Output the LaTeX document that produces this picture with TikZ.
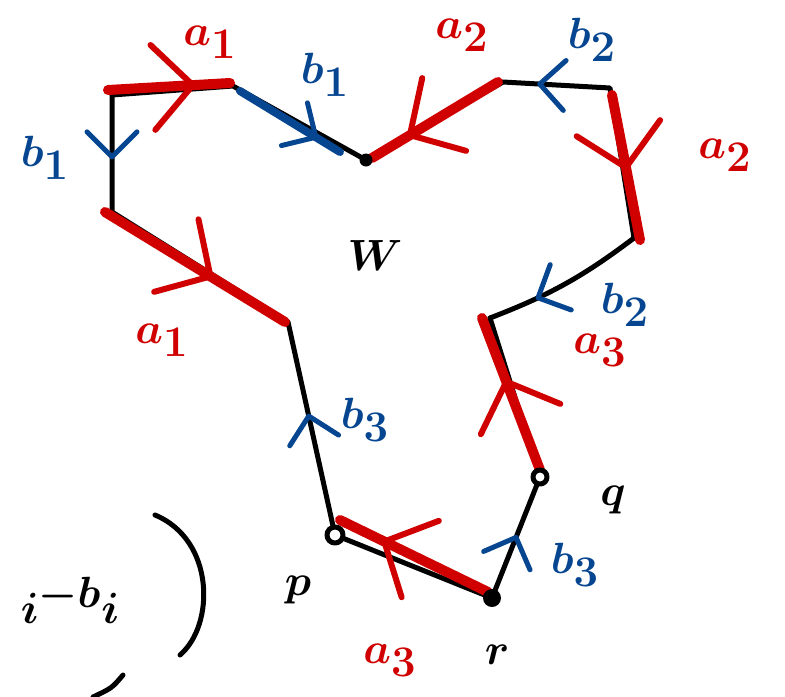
\documentclass[tikz,border=0pt]{standalone}
\usetikzlibrary{arrows.meta,decorations.markings}

\definecolor{sketchred}{RGB}{208,0,0}
\definecolor{sketchblue}{RGB}{6,70,145}

\tikzset{
    edge/.style={line width=0.1cm, line cap=round, line join=round},
    redseg/.style={draw=sketchred, line width=0.2cm, line cap=round},
    blueseg/.style={draw=sketchblue, line width=0.16cm, line cap=round},
    redchev/.style={postaction={decorate, decoration={markings,
        mark=at position #1 with {\arrow[sketchred]{Straight Barb[length=0.8cm,width=1.7cm,line width=0.12cm,round]}}}}},
    bluechev/.style={postaction={decorate, decoration={markings,
        mark=at position #1 with {\arrow[sketchblue]{Straight Barb[length=0.5cm,width=1.0cm,line width=0.1cm,round]}}}}},
    lbl/.style={font=\fontsize{44}{46}\selectfont\boldmath},
}

\begin{document}
\begin{tikzpicture}[x=0.02cm,y=-0.02cm]
    \useasboundingbox (0,0) rectangle (785,697);

    % corners of the outline
    \coordinate (A) at (112,95);
    \coordinate (B) at (233,86);
    \coordinate (C) at (366,160);
    \coordinate (D) at (503,82);
    \coordinate (E) at (610,88);
    \coordinate (F) at (634,238);
    \coordinate (G) at (490,318);
    \coordinate (H) at (540,477);
    \coordinate (I) at (492,598);
    \coordinate (J) at (335,535);
    \coordinate (K) at (288,322);
    \coordinate (L) at (112,212);

    % black outline
    \draw[edge] (A) -- (B) -- (C) -- (D) -- (E) -- (F);
    \draw[edge] (F) to[bend left=8] (G);
    \draw[edge] (G) -- (H) -- (I) -- (J) -- (K) -- (L) -- (A);

    % blue arrows on black edges
    \path[bluechev=0.55] (A) -- (L);
    \path[bluechev=0.68] (E) -- (D);
    \path[bluechev=0.7] (F) to[bend left=8] (G);
    \path[bluechev=0.52] (I) -- (H);
    \path[bluechev=0.57] (J) -- (K);

    % coloured segments
    \draw[redseg, redchev=0.72] (108,90) -- (230,83);
    \draw[blueseg, bluechev=0.78] (240,91) -- (340,152);
    \draw[redseg, redchev=0.72] (498,82) -- (372,158);
    \draw[redseg, redchev=0.52] (612,95) -- (640,240);
    \draw[redseg, redchev=0.6] (105,212) -- (285,322);
    \draw[redseg, redchev=0.6] (540,470) -- (482,318);
    \draw[redseg, redchev=0.72] (488,592) -- (340,520);

    % vertices
    \fill (C) circle (0.13cm);
    \fill (I) circle (0.18cm);
    \draw[edge, fill=white] (J) circle (0.16cm);
    \draw[edge, fill=white] (H) circle (0.14cm);

    % labels
    \node[lbl, text=sketchred] (la1) at (210,42) {$a_1$};
    \node[lbl, text=sketchred] (la1b) at (162,340) {$a_1$};
    \node[lbl, text=sketchred] (la2) at (462,35) {$a_2$};
    \node[lbl, text=sketchred] (la2b) at (725,155) {$a_2$};
    \node[lbl, text=sketchred] (la3) at (600,350) {$a_3$};
    \node[lbl, text=sketchred] (la3b) at (390,660) {$a_3$};
    \node[lbl, text=sketchblue] (lb1) at (325,75) {$b_1$};
    \node[lbl, text=sketchblue] (lb1b) at (45,158) {$b_1$};
    \node[lbl, text=sketchblue] (lb2) at (592,40) {$b_2$};
    \node[lbl, text=sketchblue] (lb2b) at (625,305) {$b_2$};
    \node[lbl, text=sketchblue] (lb3) at (365,420) {$b_3$};
    \node[lbl, text=sketchblue] (lb3b) at (575,565) {$b_3$};
    \node[lbl] (w) at (375,255) {$W$};
    \node[lbl] (p) at (298,590) {$p$};
    \node[lbl] (q) at (613,500) {$q$};
    \node[lbl] (r) at (497,655) {$r$};
    \node[lbl] (exp) at (70,600) {$i^{-b}i$};

    % bracket marks at the bottom left
    \draw[edge] (155,515) .. controls (215,540) and (215,625) .. (180,655);
    \draw[edge] (123,675) .. controls (112,688) .. (93,697);
\end{tikzpicture}
\end{document}
